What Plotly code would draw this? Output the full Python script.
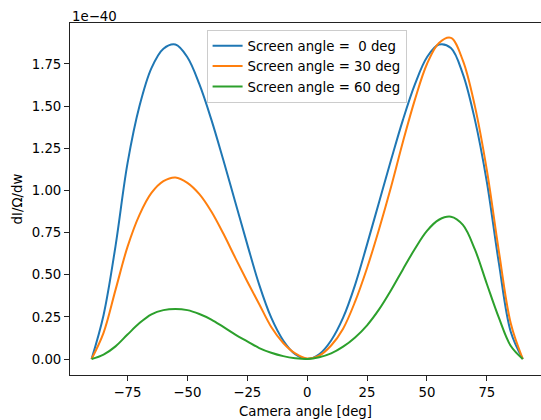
import plotly.graph_objects as go

# Camera angle grid [deg]
camera_angle = [-90, -85, -80, -75, -70, -65, -60, -55, -50, -45, -40, -35, -30, -25, -20, -15, -10, -5,
                0, 5, 10, 15, 20, 25, 30, 35, 40, 45, 50, 55, 60, 65, 70, 75, 80, 85, 90]

# dI/Ω/dw values in units of 1e-40
screen_0 = [0.0, 0.26, 0.67, 1.16, 1.50, 1.725, 1.84, 1.865, 1.79, 1.63, 1.42, 1.18, 0.93, 0.68, 0.44, 0.245, 0.11, 0.028,
            0.0, 0.028, 0.11, 0.245, 0.44, 0.68, 0.93, 1.18, 1.42, 1.63, 1.79, 1.865, 1.845, 1.69, 1.42, 1.05, 0.57, 0.16, 0.0]
screen_30 = [0.0, 0.155, 0.41, 0.665, 0.855, 0.985, 1.055, 1.077, 1.045, 0.978, 0.875, 0.744, 0.60, 0.46, 0.325, 0.19, 0.095, 0.033,
             0.003, 0.02, 0.08, 0.18, 0.34, 0.54, 0.77, 1.02, 1.29, 1.54, 1.75, 1.875, 1.905, 1.77, 1.50, 1.12, 0.64, 0.21, 0.0]
screen_60 = [0.0, 0.026, 0.075, 0.145, 0.213, 0.265, 0.29, 0.297, 0.29, 0.267, 0.234, 0.19, 0.145, 0.105, 0.065, 0.037, 0.017, 0.005,
             0.0, 0.01, 0.033, 0.073, 0.128, 0.2, 0.294, 0.408, 0.533, 0.654, 0.76, 0.826, 0.844, 0.795, 0.65, 0.445, 0.245, 0.077, 0.0]

series_names = ["Screen angle =\u00a0\u00a00 deg", "Screen angle = 30 deg", "Screen angle = 60 deg"]
series_values = [screen_0, screen_30, screen_60]
colors = ["#1f77b4", "#ff7f0e", "#2ca02c"]

x_ticks = [-75, -50, -25, 0, 25, 50, 75]
y_ticks = [0.0, 0.25, 0.5, 0.75, 1.0, 1.25, 1.5, 1.75]

FONT = "DejaVu Sans"
FS = 13.3
TXT = "#000000"
AX = "#222222"

fig = go.Figure()
for name, vals, col in zip(series_names, series_values, colors):
    fig.add_trace(go.Scatter(x=camera_angle, y=vals, mode="lines", name=name,
                             line=dict(color=col, width=2, shape="spline", smoothing=1.0)))

fig.update_layout(
    template="none",
    width=541, height=420,
    margin=dict(l=70, r=0, t=23, b=45, pad=0),
    paper_bgcolor="white", plot_bgcolor="white",
    font=dict(family=FONT, size=FS, color=TXT),
    showlegend=True,
    legend=dict(x=0.29, y=0.981, xanchor="left", yanchor="top",
                bgcolor="rgba(255,255,255,0.8)", bordercolor="#cccccc", borderwidth=1,
                font=dict(family=FONT, size=FS, color=TXT)),
    xaxis=dict(range=[-99, 97.6], tickvals=x_ticks, showgrid=False, zeroline=False, automargin=False,
               showline=True, linecolor=AX, linewidth=1, mirror=True,
               ticks="outside", ticklen=5, tickwidth=1, tickcolor=AX,
               title=dict(text="Camera angle [deg]", standoff=7,
                          font=dict(family=FONT, size=FS, color=TXT))),
    yaxis=dict(range=[-0.0949, 1.993], tickvals=y_ticks, tickformat=".2f", showgrid=False, zeroline=False,
               automargin=False, showline=True, linecolor=AX, linewidth=1, mirror=False,
               ticks="outside", ticklen=5, tickwidth=1, tickcolor=AX,
               title=dict(text="dI/Ω/dw", standoff=6,
                          font=dict(family=FONT, size=FS, color=TXT))),
    annotations=[dict(text="1e\u221240", xref="paper", yref="paper", x=0, y=1,
                      xanchor="left", yanchor="bottom", showarrow=False, yshift=-3,
                      font=dict(family=FONT, size=FS, color=TXT))],
)

fig.write_html("out.html", config={"displayModeBar": False},
               post_script="document.body.style.margin='0';document.body.style.overflow='hidden';")
